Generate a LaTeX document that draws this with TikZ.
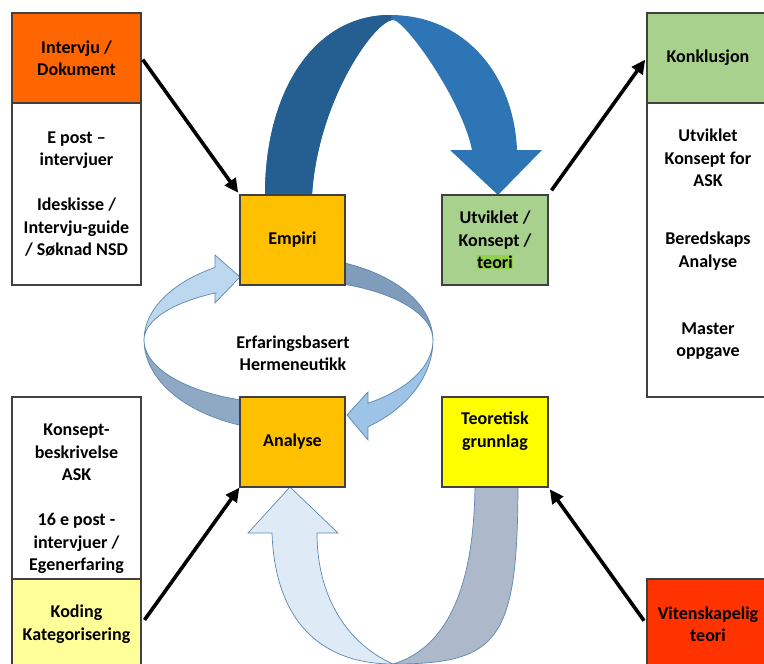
\documentclass[tikz,border=0pt]{standalone}
\usepackage{fontspec}
\setmainfont{Carlito}
\usetikzlibrary{arrows.meta}

\definecolor{intvorange}{HTML}{FF6600}
\definecolor{konkgreen}{HTML}{A9D18E}
\definecolor{empamber}{HTML}{FFC000}
\definecolor{teoryellow}{HTML}{FFFF00}
\definecolor{kodyellow}{HTML}{FFFF99}
\definecolor{vitred}{HTML}{FF3300}
\definecolor{markgreen}{HTML}{92D050}
\definecolor{bendlight}{HTML}{2E75B6}
\definecolor{benddark}{HTML}{255E91}
\definecolor{ribfront}{HTML}{BDD7EE}
\definecolor{ribback}{HTML}{8FA8C4}
\definecolor{ribbackr}{HTML}{7F9CBB}
\definecolor{ribfrontr}{HTML}{9DC3E6}
\definecolor{ubend}{HTML}{DEEBF7}
\definecolor{ubendgray}{HTML}{ADB9CA}
\definecolor{ribline}{HTML}{5B87B5}

% big arrow from Empiri over to Utviklet
\newcommand\bendshape{(265,195) .. controls (265,90) and (315,15) .. (390,15)
  .. controls (465,15) and (514,75) .. (517,150) -- (542,150) -- (498,195)
  -- (450,150) -- (472,150) .. controls (462,100) and (405,20) .. (393,20)
  .. controls (375,20) and (318,100) .. (312,195) -- cycle}

\begin{document}
\begin{tikzpicture}[x=1pt,y=-1pt,
  font=\bfseries\fontsize{18}{22.5}\selectfont,
  box/.style={draw=black!75, line width=1.2pt, inner sep=0pt, align=center},
  txt/.style={align=center, inner sep=0pt},
  link/.style={line width=3.6pt, -{Triangle[length=14pt,width=13pt]}},
  rib/.style={draw=ribline, line width=0.7pt}]

\useasboundingbox (0,0) rectangle (764,664);

% top bend arrow, dark on the left half
\fill[bendlight] \bendshape;
\begin{scope}
\clip (0,0) rectangle (391,200);
\fill[benddark] \bendshape;
\end{scope}

% hermeneutic circle, left ribbon (back part, then front part with head)
\filldraw[rib, fill=ribback] plot[domain=180:262] ({292+148*cos(\x)},{340-91*sin(\x)})
  -- plot[domain=262:180] ({292+148*cos(\x)},{340-64*sin(\x)}) -- cycle;
\filldraw[rib, fill=ribfront] (215,293) -- (215,303) -- (240,277) -- (215,255) -- (215,267.4)
  -- plot[domain=121.3:180] ({292+148*cos(\x)},{340-85*sin(\x)})
  -- plot[domain=180:121.3] ({292+148*cos(\x)},{340-55*sin(\x)}) -- cycle;

% right ribbon
\filldraw[rib, fill=ribbackr] plot[domain=90:0] ({292+141*cos(\x)},{340-83*sin(\x)})
  -- plot[domain=0:90] ({292+141*cos(\x)},{340-60*sin(\x)}) -- cycle;
\filldraw[rib, fill=ribfrontr] plot[domain=0:-57.4] ({292+141*cos(\x)},{340-103*sin(\x)})
  -- (368,440) -- (347,415) -- (368,392) -- (368,403.2)
  -- plot[domain=-57.4:0] ({292+141*cos(\x)},{340-75*sin(\x)}) -- cycle;

% U arrow from Teoretisk grunnlag up to Analyse
\filldraw[rib, fill=ubendgray] (475,480) -- (518,480) .. controls (518,640) and (500,664) .. (393,664)
  .. controls (440,650) and (475,600) .. (475,480) -- cycle;
\filldraw[rib, fill=ubend] (272,533) .. controls (275,620) and (320,664) .. (393,664)
  .. controls (350,645) and (317,600) .. (317,533) -- (338,533) -- (290,487) -- (248,533) -- cycle;

\node[txt] (herm) at (293,353) {Erfaringsbasert\\Hermeneutikk};

% left column
\node[box, fill=intvorange, minimum width=129pt, minimum height=90pt] (intv) at (76.5,58) {Intervju /\\Dokument};
\node[box, fill=white, minimum width=129pt, minimum height=182pt] (epost) at (76.5,194)
  {E post --\\intervjuer\\[22.5pt]Ideskisse /\\Intervju-guide\\/ Søknad NSD};
\node[box, fill=white, minimum width=129pt, minimum height=182pt] (konsbox) at (76.5,488) {};
\node[txt] (kons) at (76.5,499) {Konsept-\\beskrivelse\\ASK\\[22.5pt]16 e post -\\intervjuer /\\Egenerfaring};
\node[box, fill=kodyellow, minimum width=129pt, minimum height=90pt] (koding) at (76.5,624) {Koding\\Kategorisering};

% middle
\node[box, fill=empamber, minimum width=105pt, minimum height=90pt] (empiri) at (292.5,240) {Empiri};
\node[box, fill=empamber, minimum width=105pt, minimum height=90pt] (analyse) at (292.5,442) {Analyse};
\node[box, fill=konkgreen, minimum width=106pt, minimum height=90pt] (utv) at (495,240)
  {Utviklet /\\Konsept /\\{\setlength\fboxsep{0.5pt}\colorbox{markgreen}{teori}}};
\node[box, fill=teoryellow, minimum width=106pt, minimum height=90pt] (teorbox) at (495,442) {};
\node[txt] (teor) at (495,431) {Teoretisk\\grunnlag};

% right column
\node[box, fill=konkgreen, minimum width=122pt, minimum height=90pt] (konkl) at (708,58) {Konklusjon};
\node[box, fill=white, minimum width=122pt, minimum height=294pt] (resbox) at (708,250) {};
\node[txt] (konsept) at (708,158) {Utviklet\\Konsept for\\ASK};
\node[txt] (bered) at (708,251) {Beredskaps\\Analyse};
\node[txt] (master) at (708,341) {Master\\oppgave};
\node[box, fill=vitred, minimum width=122pt, minimum height=90pt] (viten) at (708,624) {Vitenskapelig\\teori};

% black arrows
\draw[link, shorten <=2pt, shorten >=2pt] (intv.east) -- (empiri.north west);
\draw[link, shorten <=5pt, shorten >=2pt] (utv.north east) -- (konkl.west);
\draw[link, shorten <=5pt] (koding.east) -- (analyse.south west);
\draw[link, shorten <=4pt, shorten >=2pt] (viten.west) -- (teorbox.south east);

\end{tikzpicture}
\end{document}
